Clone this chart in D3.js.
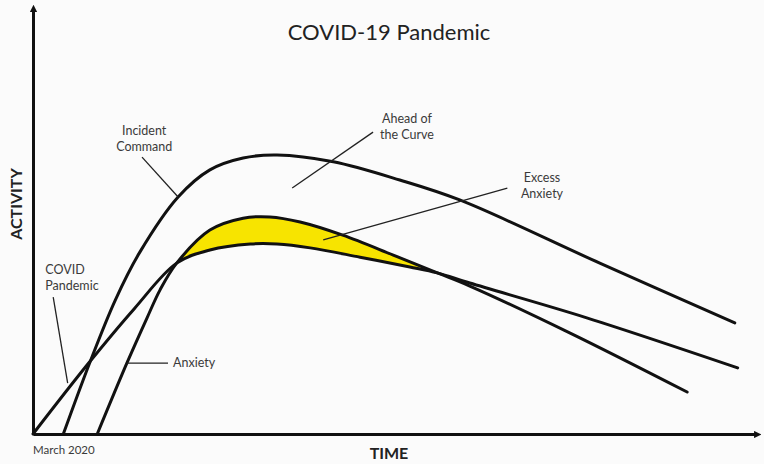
<!DOCTYPE html>
<html>
<head>
<meta charset="utf-8">
<script src="https://cdn.jsdelivr.net/npm/d3@7"></script>
<style>
  body { margin: 0; background: #fbfbfb; }
  text { font-family: Lato, "Open Sans", sans-serif; }
</style>
</head>
<body>
<div id="chart"></div>
<script>
// conceptual curves, time 0-100 vs activity 0-100
const incidentTime     = [4.2, 7.9, 11.4, 14.8, 20.1, 24.5, 29.1, 33.8, 41.6, 50.8, 59.1, 78.5, 97.2];
const incidentActivity = [0, 17.0, 31.6, 42.9, 55.9, 62.3, 65.1, 65.8, 64.2, 59.9, 55.2, 40.3, 26.2];

const anxietyTime     = [8.9, 13.0, 15.8, 17.6, 19.9, 24.5, 29.1, 32.8, 37.0, 42.9, 49.9, 56.0, 60.5, 74.4, 90.6];
const anxietyActivity = [0, 16.7, 27.4, 34.0, 40.3, 48.1, 50.9, 51.2, 50.0, 46.9, 42.2, 38.0, 34.9, 23.8, 9.9];

const covidTime     = [0, 7.6, 14.0, 19.9, 24.5, 30.1, 33.8, 38.4, 45.3, 52.2, 56.0, 60.5, 76.7, 97.6];
const covidActivity = [0, 16.5, 29.5, 40.3, 43.4, 44.8, 44.8, 43.9, 41.7, 39.4, 38.0, 35.6, 27.4, 15.6];

// callouts: label lines, text anchor and leader line (time, activity)
const calloutLabels = [["Incident", "Command"], ["Ahead of", "the Curve"], ["Excess", "Anxiety"], ["COVID", "Pandemic"], ["Anxiety"]];
const calloutText   = [[15.4, 70.5], [51.8, 73.4], [70.5, 59.4], [1.7, 37.7], [19.4, 15.8]];
const calloutLine   = [[[15.1, 65.3], [20.1, 55.9]], [[47.1, 71.2], [35.9, 58.0]], [[65.7, 58.0], [40.2, 45.8]],
                       [[2.8, 32.3], [4.8, 12.0]], [[13.0, 16.7], [18.7, 16.7]]];
const calloutAnchor = ["middle", "middle", "middle", "start", "start"];

const width = 764;
const height = 464;
const margin = { top: 10, right: 9, bottom: 30, left: 33 };

const svg = d3.select("#chart").append("svg")
  .attr("width", width)
  .attr("height", height);

const x = d3.scaleLinear().domain([0, 100]).range([margin.left, width - margin.right]);
const y = d3.scaleLinear().domain([0, 100]).range([height - margin.bottom, margin.top]);

const zip = (ts, as) => ts.map((t, i) => [t, as[i]]);
const incident = zip(incidentTime, incidentActivity);
const anxiety = zip(anxietyTime, anxietyActivity);
const covid = zip(covidTime, covidActivity);

const curve = d3.curveCatmullRom.alpha(0.5);
const line = d3.line().x(d => x(d[0])).y(d => y(d[1])).curve(curve);

// yellow = under anxiety and above covid
const defs = svg.append("defs");
defs.append("clipPath").attr("id", "aboveCovid")
  .append("path")
  .attr("d", d3.area().x(d => x(d[0])).y0(y(100)).y1(d => y(d[1])).curve(curve)(covid));

defs.append("marker")
  .attr("id", "arrow")
  .attr("viewBox", "0 0 10 10")
  .attr("refX", 2).attr("refY", 5)
  .attr("markerWidth", 2.4).attr("markerHeight", 2.4)
  .attr("orient", "auto")
  .append("path").attr("d", "M0,0L10,5L0,10Z").attr("fill", "#111");

svg.append("path")
  .attr("d", d3.area().x(d => x(d[0])).y0(y(0)).y1(d => y(d[1])).curve(curve)(anxiety))
  .attr("clip-path", "url(#aboveCovid)")
  .attr("fill", "#f7e400");

// axes, no ticks
svg.append("g")
  .attr("transform", `translate(0,${y(0)})`)
  .call(d3.axisBottom(x).tickValues([]).tickSizeOuter(0))
  .select(".domain")
  .attr("stroke", "#111").attr("stroke-width", 3)
  .attr("marker-end", "url(#arrow)");

svg.append("g")
  .attr("transform", `translate(${x(0)},0)`)
  .call(d3.axisLeft(y).tickValues([]).tickSizeOuter(0))
  .select(".domain")
  .attr("stroke", "#111").attr("stroke-width", 3)
  .attr("marker-end", "url(#arrow)");

// the three curves
svg.selectAll(".curve")
  .data([incident, anxiety, covid])
  .join("path")
  .attr("class", "curve")
  .attr("d", line)
  .attr("fill", "none")
  .attr("stroke", "#111")
  .attr("stroke-width", 3)
  .attr("stroke-linecap", "round");

// callouts
svg.selectAll(".leader")
  .data(calloutLine)
  .join("line")
  .attr("class", "leader")
  .attr("x1", d => x(d[0][0])).attr("y1", d => y(d[0][1]))
  .attr("x2", d => x(d[1][0])).attr("y2", d => y(d[1][1]))
  .attr("stroke", "#222")
  .attr("stroke-width", 1.3);

calloutLabels.forEach((lines, i) => {
  const t = svg.append("text")
    .attr("x", x(calloutText[i][0]))
    .attr("y", y(calloutText[i][1]))
    .attr("text-anchor", calloutAnchor[i])
    .attr("font-size", 12.5)
    .attr("fill", "#3a3a3a");
  lines.forEach((s, j) => {
    t.append("tspan").attr("x", x(calloutText[i][0])).attr("dy", j ? 16 : 0).text(s);
  });
});

// titles
svg.append("text")
  .attr("x", 389).attr("y", 40)
  .attr("text-anchor", "middle")
  .attr("font-size", 22)
  .attr("fill", "#222")
  .text("COVID-19 Pandemic");

svg.append("text")
  .attr("x", 389).attr("y", 459)
  .attr("text-anchor", "middle")
  .attr("font-size", 16).attr("font-weight", "bold")
  .attr("fill", "#222")
  .text("TIME");

svg.append("text")
  .attr("transform", "translate(22,204) rotate(-90)")
  .attr("text-anchor", "middle")
  .attr("font-size", 16).attr("font-weight", "bold")
  .attr("fill", "#222")
  .text("ACTIVITY");

svg.append("text")
  .attr("x", x(0)).attr("y", 454)
  .attr("font-size", 11.5)
  .attr("fill", "#3a3a3a")
  .text("March 2020");
</script>
</body>
</html>
